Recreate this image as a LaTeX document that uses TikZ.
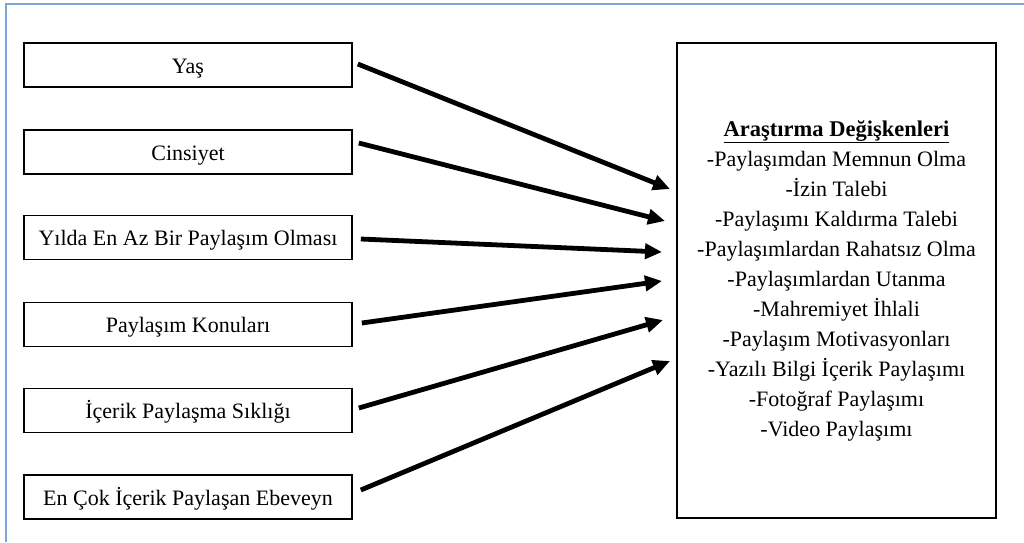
\documentclass[tikz,border=0pt]{standalone}
\usepackage{fontspec}
\setmainfont{Liberation Serif}
\usetikzlibrary{arrows.meta,calc}
\definecolor{framecolor}{RGB}{125,165,218}

\begin{document}
\begin{tikzpicture}[x=1pt, y=-1pt, every node/.style={inner sep=0pt},
  factor/.style={draw, line width=1.6pt, minimum width=328pt, minimum height=44pt, text height=20pt, text depth=3.5pt, font=\fontsize{22}{26}\selectfont},
  link/.style={line width=4.8pt, -{Triangle[length=17pt,width=15pt]}}]
  \useasboundingbox (0,0) rectangle (1024,542);
  % frame
  \draw[line width=1.5pt, framecolor] (6,542) -- (6,4) -- (1024,4);
  % factors
  \foreach \name/\y/\txt in {b1/65/Yaş, b2/152/Cinsiyet, b3/237.5/Yılda En Az Bir Paylaşım Olması,
      b4/324.5/Paylaşım Konuları, b5/410.5/İçerik Paylaşma Sıklığı, b6/497/En Çok İçerik Paylaşan Ebeveyn}
    \node[factor] (\name) at (188,\y) {\txt};
  % research variables
  \node[draw, line width=1.6pt, minimum width=319pt, minimum height=475pt, align=center,
    font=\fontsize{22}{30}\selectfont] (vars) at (836.5,280.5)
    {\underline{\fontsize{22.5}{30}\selectfont\textbf{Araştırma Değişkenleri}}\\
     -Paylaşımdan Memnun Olma\\
     -İzin Talebi\\
     -Paylaşımı Kaldırma Talebi\\
     -Paylaşımlardan Rahatsız Olma\\
     -Paylaşımlardan Utanma\\
     -Mahremiyet İhlali\\
     -Paylaşım Motivasyonları\\
     -Yazılı Bilgi İçerik Paylaşımı\\
     -Fotoğraf Paylaşımı\\
     -Video Paylaşımı};
  % arrow tips
  \coordinate (t1) at (670,189);
  \coordinate (t2) at (665,221);
  \coordinate (t3) at (662,252);
  \coordinate (t4) at (662,281);
  \coordinate (t5) at (663,320);
  \coordinate (t6) at (670,361);
  % arrows
  \draw[link] ($(b1.east)+(5,-1)$) -- (t1);
  \draw[link] ($(b2.east)+(6,-9)$) -- (t2);
  \draw[link] ($(b3.east)+(8,1.5)$) -- (t3);
  \draw[link] ($(b4.east)+(9,-1.5)$) -- (t4);
  \draw[link] ($(b5.east)+(6,-2.5)$) -- (t5);
  \draw[link] ($(b6.east)+(8,-7)$) -- (t6);
\end{tikzpicture}
\end{document}
